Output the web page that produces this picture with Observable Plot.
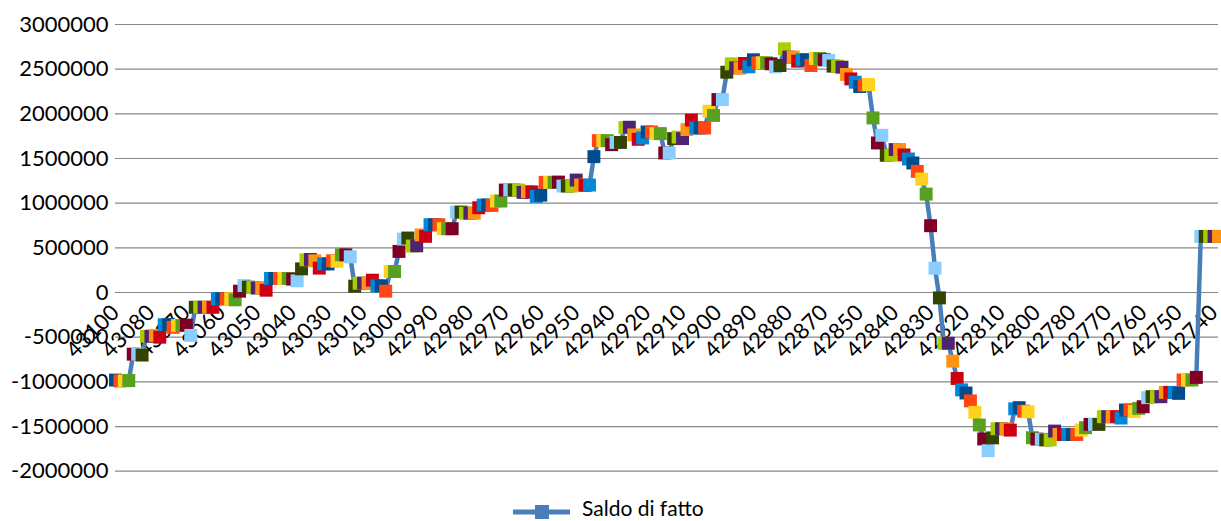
<!DOCTYPE html>
<html>
<head>
<meta charset="utf-8">
<script src="https://cdn.jsdelivr.net/npm/d3@7"></script>
<script src="https://cdn.jsdelivr.net/npm/@observablehq/plot@0.6"></script>
<style>
  html, body { margin: 0; padding: 0; background: #fff; }
  #chart svg { display: block; }
</style>
</head>
<body>
<div id="chart"></div>
<script>
// Marker colours (Excel "vary colours by point" cycle)
const palette = ["#004C8C", "#FF4713", "#FFD21E", "#57A11E", "#800025", "#8ACDFF",
                 "#344300", "#A8CE00", "#4E2371", "#FF9412", "#CC0012", "#0089D8"];

// Series "Saldo di fatto", one value per category
const values = [
  -980000, -990000, -990000, -985000, -690000, -690000, -700000, -490000, -490000, -480000,
  -500000, -360000, -360000, -390000, -370000, -370000, -365000, -480000, -165000, -165000,
  -165000, -165000, -165000, -70000, -70000, -70000, -70000, -82000, 15000, 78000,
  60000, 55000, 50000, 50000, 26000, 157000, 157000, 157000, 157000, 157000,
  150000, 131000, 265000, 366000, 370000, 355000, 273000, 321000, 320000, 355000,
  350000, 422000, 422000, 400000, 71000, 104000, 105000, 105000, 138000, 75000,
  75000, 15000, 235000, 235000, 460000, 598000, 610000, 520000, 523000, 645000,
  629000, 759000, 759000, 759000, 714000, 714000, 714000, 900000, 900000, 888000,
  888000, 888000, 949000, 979000, 979000, 975000, 1024000, 1024000, 1147000, 1147000,
  1147000, 1147000, 1121000, 1130000, 1126000, 1076000, 1090000, 1233000, 1233000, 1233000,
  1236000, 1192000, 1192000, 1192000, 1259000, 1203000, 1200000, 1203000, 1521000, 1700000,
  1700000, 1700000, 1655000, 1680000, 1680000, 1846000, 1850000, 1764000, 1715000, 1730000,
  1797000, 1797000, 1779000, 1779000, 1562000, 1562000, 1723000, 1740000, 1723000, 1824000,
  1930000, 1842000, 1842000, 1842000, 2029000, 1982000, 2160000, 2160000, 2466000, 2560000,
  2515000, 2512000, 2564000, 2526000, 2605000, 2571000, 2571000, 2571000, 2560000, 2526000,
  2541000, 2728000, 2635000, 2635000, 2590000, 2605000, 2605000, 2541000, 2620000, 2620000,
  2605000, 2597000, 2534000, 2534000, 2522000, 2441000, 2391000, 2354000, 2306000, 2320000,
  2328000, 1954000, 1674000, 1760000, 1536000, 1536000, 1600000, 1600000, 1540000, 1495000,
  1450000, 1356000, 1270000, 1102000, 748000, 272000, -60000, -568000, -568000, -768000,
  -962000, -1090000, -1125000, -1213000, -1341000, -1483000, -1639000, -1770000, -1627000, -1525000,
  -1525000, -1525000, -1540000, -1302000, -1289000, -1328000, -1335000, -1625000, -1640000, -1642000,
  -1650000, -1650000, -1551000, -1589000, -1589000, -1589000, -1589000, -1589000, -1540000, -1513000,
  -1476000, -1476000, -1476000, -1390000, -1390000, -1390000, -1390000, -1405000, -1315000, -1315000,
  -1331000, -1297000, -1278000, -1177000, -1166000, -1166000, -1166000, -1118000, -1118000, -1118000,
  -1129000, -979000, -979000, -979000, -950000, 628000, 628000, 628000, 628000, 628000
];

// Category-axis labels shown (one every 8 categories)
const tickLabels = [43100, 43080, 43070, 43060, 43050, 43040, 43030, 43010, 43000, 42990,
  42980, 42970, 42960, 42950, 42940, 42920, 42910, 42900, 42890, 42880,
  42870, 42850, 42840, 42830, 42820, 42810, 42800, 42780, 42770, 42760,
  42750, 42740];
const labelEvery = 8;

// Value-axis ticks
const yTicks = [-2000000, -1500000, -1000000, -500000, 0, 500000, 1000000, 1500000, 2000000, 2500000, 3000000];

const seriesName = "Saldo di fatto";
const lineColor = "#4A7EBB";

const points = values.map((v, i) => ({i, v, c: i % palette.length}));
const xTicks = tickLabels.map((label, k) => ({i: k * labelEvery, label}));

const chart = Plot.plot({
  width: 1221,
  height: 488,
  marginTop: 24,
  marginBottom: 17.3,
  marginLeft: 115,
  marginRight: 3,
  style: {fontFamily: "Lato, 'Open Sans', sans-serif", fontSize: "22px", color: "#000", background: "#fff", overflow: "visible"},
  x: {domain: [0, values.length - 1], axis: null},
  y: {domain: [-2000000, 3000000], axis: null},
  color: {type: "ordinal", domain: d3.range(palette.length), range: palette},
  marks: [
    Plot.ruleY(yTicks, {stroke: "#878787", strokeWidth: 1.2}),
    Plot.text(yTicks, {y: d => d, text: d => String(d), frameAnchor: "left", textAnchor: "end", dx: -7, fill: "#000"}),
    Plot.text(xTicks, {x: "i", y: 0, text: d => String(d.label), rotate: -45, textAnchor: "end", dy: 16.5, fill: "#000"}),
    Plot.line(points, {x: "i", y: "v", stroke: lineColor, strokeWidth: 4.5}),
    Plot.dot(points, {x: "i", y: "v", symbol: "square", r: 7.3, fill: "c", stroke: null})
  ]
});
document.getElementById("chart").appendChild(chart);

// Legend below the plot
const legend = d3.select("body").append("svg")
  .attr("width", 1221).attr("height", 33).style("display", "block").style("overflow", "visible");
legend.append("line").attr("x1", 513).attr("x2", 570).attr("y1", 24).attr("y2", 24)
  .attr("stroke", lineColor).attr("stroke-width", 5);
legend.append("rect").attr("x", 535).attr("y", 17).attr("width", 14).attr("height", 14).attr("fill", lineColor);
legend.append("text").attr("x", 582).attr("y", 28)
  .attr("font-family", "Lato, 'Open Sans', sans-serif").attr("font-size", 21).attr("fill", "#000")
  .text(seriesName);
</script>
</body>
</html>
